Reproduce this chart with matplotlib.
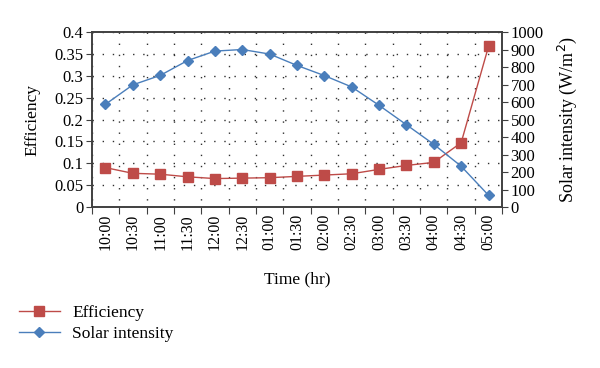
import matplotlib
matplotlib.use("Agg")
import matplotlib.pyplot as plt
from matplotlib.lines import Line2D
import numpy as np

times = ["10:00", "10:30", "11:00", "11:30", "12:00", "12:30", "01:00", "01:30",
         "02:00", "02:30", "03:00", "03:30", "04:00", "04:30", "05:00"]
efficiency = [0.090, 0.077, 0.075, 0.069, 0.065, 0.066, 0.067, 0.070,
              0.073, 0.076, 0.086, 0.095, 0.102, 0.147, 0.367]
solar = [587, 698, 752, 837, 891, 900, 874, 809,
         751, 686, 581, 470, 358, 233, 67]

red = "#be4b48"
blue = "#4a7ebb"
plt.rcParams["font.family"] = ["Liberation Serif", "DejaVu Serif"]

fig = plt.figure(figsize=(6, 3.68), dpi=100)
ax = fig.add_axes([0.153, 0.4375, 0.684, 0.4755])
ax2 = ax.twinx()

x = np.arange(len(times))
ax.plot(x, efficiency, "-s", color=red, lw=1, ms=7, mec=red, zorder=3)
ax2.plot(x, solar, "-D", color=blue, lw=1, ms=5.5, mec=blue, zorder=3)

ax.set_xlim(-0.5, len(times) - 0.5)
ax.set_ylim(0, 0.4)
ax2.set_ylim(0, 1000)
ax.set_yticks(np.arange(0, 0.401, 0.05))
ax.set_yticklabels(["0", "0.05", "0.1", "0.15", "0.2", "0.25", "0.3", "0.35", "0.4"])
ax2.set_yticks(np.arange(0, 1001, 100))

# category boundary ticks, labels centred
ax.set_xticks(np.arange(-0.5, len(times), 1))
ax.set_xticklabels([])
ax.set_xticks(x, minor=True)
ax.set_xticklabels(times, minor=True, rotation=90)
ax.tick_params(axis="x", which="minor", length=0, pad=5, labelsize=11.5)
ax.tick_params(axis="x", which="major", length=5, direction="out", color="#404040")
ax.tick_params(axis="y", labelsize=12, length=4, direction="out", color="#404040", pad=2)
ax2.tick_params(axis="y", labelsize=12, length=4, direction="out", color="#404040", pad=2)

# sparse dotted grid
ax.grid(True, which="major", axis="x", color="#303030", ls=(3, (1, 7)), lw=1)
ax.grid(True, which="major", axis="y", color="#303030", ls=(0, (1, 6.3)), lw=1)
ax.set_axisbelow(True)

for a in (ax, ax2):
    for s in a.spines.values():
        s.set_color("#404040")
        s.set_linewidth(1.2)

ax.set_ylabel("Efficiency", fontsize=12.5, labelpad=10)
ax2.set_ylabel("Solar intensity (W/m$^2$)", fontsize=13, labelpad=9)
ax.set_xlabel("Time (hr)", fontsize=12.5, labelpad=15)

handles = [Line2D([], [], color=red, marker="s", lw=1, ms=7),
           Line2D([], [], color=blue, marker="D", lw=1, ms=5.5)]
fig.legend(handles, ["Efficiency", "Solar intensity"], loc="upper left",
           bbox_to_anchor=(0.005, 0.215), frameon=False, fontsize=12.5,
           handlelength=2.4, handletextpad=0.7, labelspacing=0.3)

fig.savefig("out.png", dpi=100)
